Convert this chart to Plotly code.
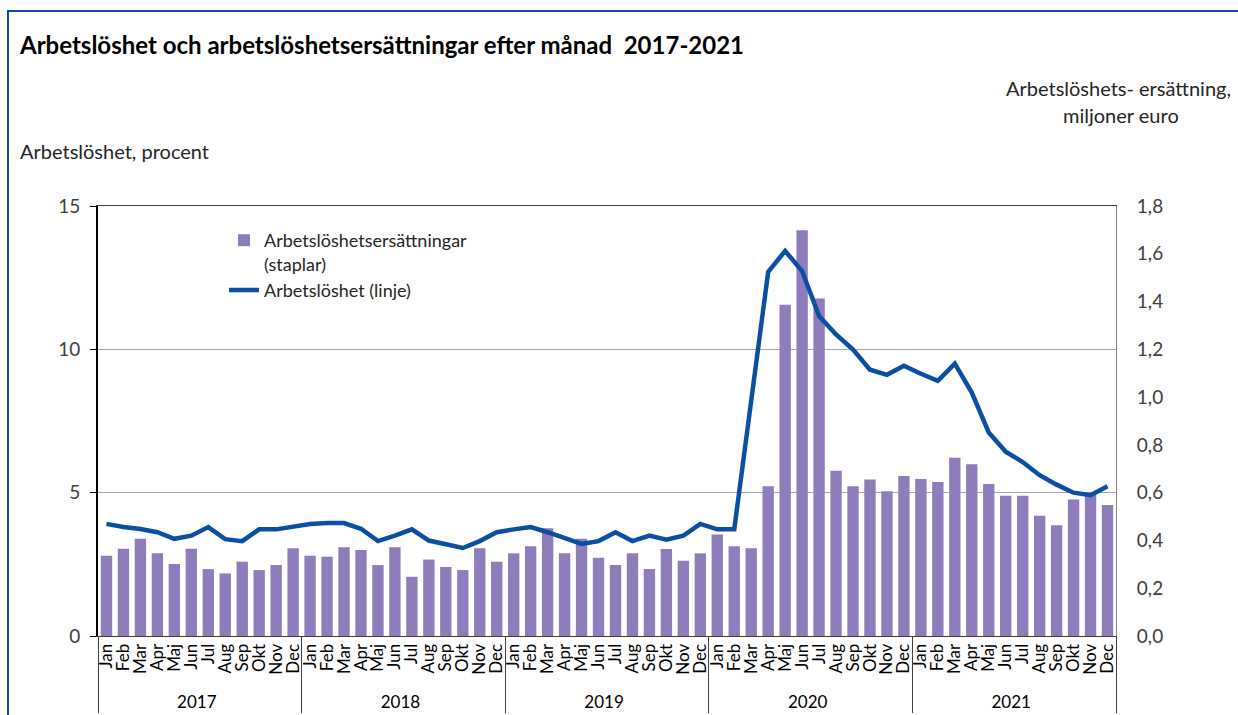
import plotly.graph_objects as go

years = ["2017", "2018", "2019", "2020", "2021"]
months = ["Jan", "Feb", "Mar", "Apr", "Maj", "Jun", "Jul", "Aug", "Sep", "Okt", "Nov", "Dec"]

# Arbetslöshetsersättningar, miljoner euro (staplar, högra axeln)
benefits_2017 = [0.336, 0.365, 0.407, 0.346, 0.301, 0.365, 0.280, 0.262, 0.311, 0.276, 0.297, 0.367]
benefits_2018 = [0.336, 0.332, 0.371, 0.360, 0.297, 0.371, 0.248, 0.320, 0.289, 0.276, 0.367, 0.311]
benefits_2019 = [0.346, 0.376, 0.451, 0.346, 0.407, 0.328, 0.297, 0.346, 0.280, 0.364, 0.315, 0.346]
benefits_2020 = [0.425, 0.376, 0.367, 0.627, 1.387, 1.699, 1.413, 0.692, 0.627, 0.655, 0.606, 0.670]
benefits_2021 = [0.657, 0.645, 0.746, 0.719, 0.636, 0.587, 0.587, 0.503, 0.464, 0.571, 0.590, 0.548]

# Arbetslöshet, procent (linje, vänstra axeln)
unemp_2017 = [3.91, 3.80, 3.73, 3.62, 3.39, 3.50, 3.80, 3.38, 3.31, 3.72, 3.72, 3.80]
unemp_2018 = [3.91, 3.94, 3.94, 3.74, 3.31, 3.50, 3.72, 3.33, 3.21, 3.07, 3.31, 3.62]
unemp_2019 = [3.72, 3.80, 3.62, 3.42, 3.21, 3.31, 3.62, 3.31, 3.50, 3.36, 3.50, 3.91]
unemp_2020 = [3.72, 3.72, 8.20, 12.70, 13.43, 12.73, 11.16, 10.52, 9.99, 9.29, 9.11, 9.43]
unemp_2021 = [9.15, 8.90, 9.50, 8.49, 7.10, 6.43, 6.07, 5.61, 5.28, 5.00, 4.91, 5.22]

left_ticks = [0, 5, 10, 15]
right_ticks = [0.0, 0.2, 0.4, 0.6, 0.8, 1.0, 1.2, 1.4, 1.6, 1.8]

benefits = benefits_2017 + benefits_2018 + benefits_2019 + benefits_2020 + benefits_2021
unemployment = unemp_2017 + unemp_2018 + unemp_2019 + unemp_2020 + unemp_2021
x_year = [y for y in years for _ in months]
x_month = [m for _ in years for m in months]

W, H = 1238, 715
L, R, T, B = 98, 1116, 206, 636
FONT = "Lato"

def px_x(p):
    return (p - L) / (R - L)

def px_y(p):
    return (B - p) / (B - T)

fig = go.Figure()
fig.add_trace(go.Bar(
    x=[x_year, x_month], y=benefits, yaxis="y",
    name="Arbetslöshetsersättningar<br>(staplar)",
    marker=dict(color="#8f7cba", line=dict(width=0)),
))
fig.add_trace(go.Scatter(
    x=[x_year, x_month], y=unemployment, yaxis="y2",
    name="Arbetslöshet (linje)", mode="lines",
    line=dict(color="#0a4fa3", width=4.5),
))

fig.update_layout(
    width=W, height=H,
    margin=dict(l=L, r=W - R, t=T, b=H - B, autoexpand=False),
    paper_bgcolor="white", plot_bgcolor="white",
    separators=", ",
    bargap=0.33,
    font=dict(family=FONT, size=18, color="#262626"),
    title=dict(
        text="<b>Arbetslöshet och arbetslöshetsersättningar efter månad  2017-2021</b>",
        font=dict(family=FONT, size=24, color="black"),
        xref="container", yref="container",
        x=20 / W, xanchor="left", y=1 - 46 / H, yanchor="middle",
    ),
    xaxis=dict(
        type="multicategory",
        tickmode="linear", tick0=0, dtick=1,
        tickangle=-90,
        ticks="",
        showline=True, linecolor="#404040", linewidth=1, mirror=True,
        showdividers=True, dividercolor="#404040", dividerwidth=1,
        tickfont=dict(family=FONT, size=17, color="black"),
        showgrid=False, automargin=False,
    ),
    yaxis=dict(
        side="right", range=[0, 1.8], tickvals=right_ticks, tickformat=".1f",
        showgrid=False, showline=True, linecolor="#808080", linewidth=1,
        ticks="", ticklabelstandoff=16,
        tickfont=dict(family=FONT, size=19, color="#404040"),
        zeroline=False, automargin=False,
    ),
    yaxis2=dict(
        side="left", overlaying="y", range=[0, 15], tickvals=left_ticks,
        showgrid=True, gridcolor="#a6a6a6", gridwidth=1,
        showline=True, linecolor="black", linewidth=2,
        ticks="outside", ticklen=6, tickcolor="black", tickwidth=1,
        ticklabelstandoff=6,
        tickfont=dict(family=FONT, size=19, color="#404040"),
        zeroline=False, automargin=False,
    ),
    legend=dict(
        x=px_x(224), y=px_y(222), xanchor="left", yanchor="top",
        bgcolor="rgba(0,0,0,0)", font=dict(family=FONT, size=18, color="#262626"),
        valign="top", tracegroupgap=0, itemwidth=30,
    ),
    showlegend=True,
    annotations=[
        dict(text="Arbetslöshet, procent", xref="paper", yref="paper",
             x=px_x(18), y=px_y(151), xanchor="left", yanchor="middle",
             showarrow=False, font=dict(family=FONT, size=20, color="#262626")),
        dict(text="Arbetslöshets- ersättning,", xref="paper", yref="paper",
             x=px_x(1233), y=px_y(88), xanchor="right", yanchor="middle",
             showarrow=False, font=dict(family=FONT, size=20, color="#262626")),
        dict(text="miljoner euro", xref="paper", yref="paper",
             x=px_x(1121), y=px_y(115), xanchor="center", yanchor="middle",
             showarrow=False, font=dict(family=FONT, size=20, color="#262626")),
    ],
    shapes=[
        dict(type="rect", xref="paper", yref="paper",
             x0=px_x(8), x1=px_x(1260), y0=px_y(11), y1=px_y(760),
             line=dict(color="#0a4fa3", width=2), fillcolor="rgba(0,0,0,0)", layer="above"),
    ],
)

fig.write_html(
    "out.html",
    config={"displayModeBar": False},
    post_script="document.body.style.margin='0';document.body.style.overflow='hidden';",
)
